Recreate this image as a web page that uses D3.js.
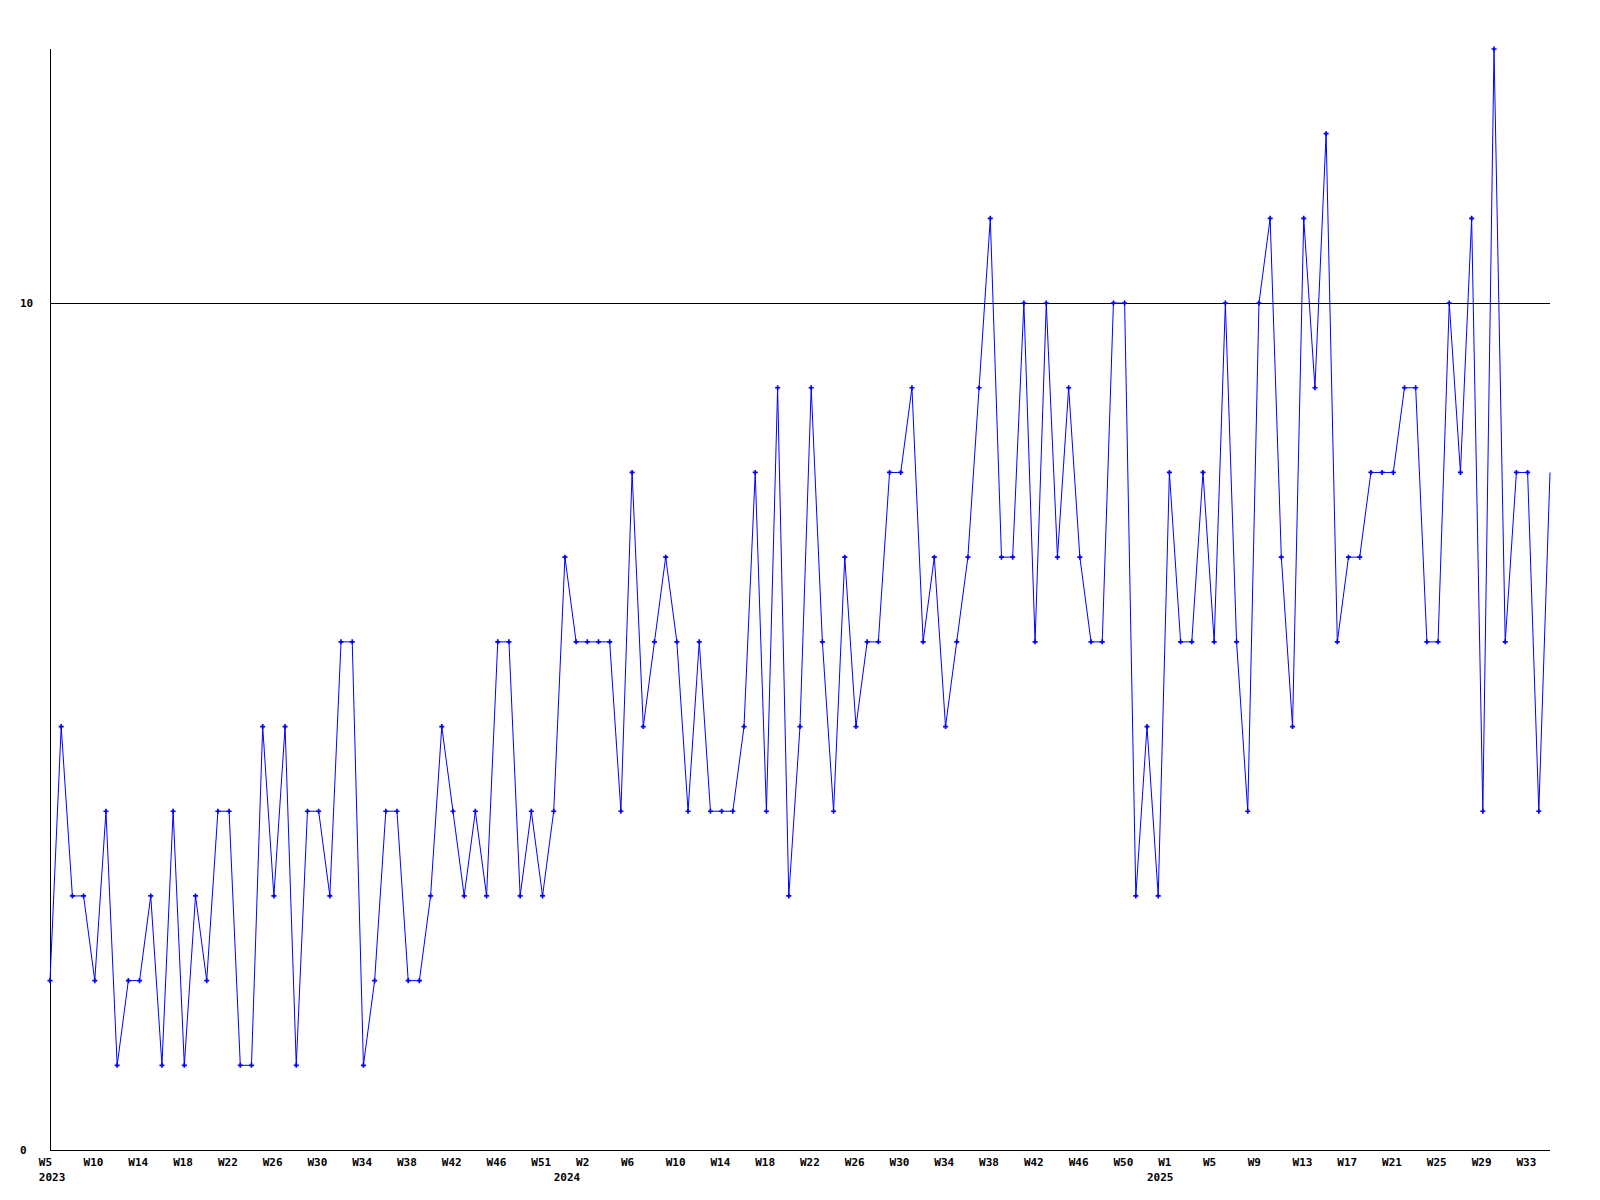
<!DOCTYPE html>
<html><head><meta charset="utf-8">
<script src="https://cdn.jsdelivr.net/npm/d3@7"></script>
<style>body{margin:0;background:#fff}svg{display:block}</style>
</head><body>
<script>
// Weekly values, starting at 2023 W5
const values = [2,5,3,3,2,4,1,2,2,3,1,4,1,3,2,4,4,1,1,5,3,5,1,4,4,3,6,6,1,2,
4,4,2,2,3,5,4,3,4,3,6,6,3,4,3,4,7,6,6,6,6,4,8,5,6,7,6,4,6,4,
4,4,5,8,4,9,3,5,9,6,4,7,5,6,6,8,8,9,6,7,5,6,7,9,11,7,7,10,6,10,
7,9,7,6,6,10,10,3,5,3,8,6,6,8,6,10,6,4,10,11,7,5,11,9,12,6,7,7,8,8,
8,9,9,6,6,10,8,11,4,13,6,8,8,4,8];
// x-axis tick labels: [point index, label]
const tickIdx = [-1,3,7,11,15,19,23,27,31,35,39,43,47,51,55,59,63,67,71,75,79,83,87,91,95,99,103,107,111,115,119,123,127,131];
const tickText = ["W5","W10","W14","W18","W22","W26","W30","W34","W38","W42","W46","W51","W2","W6","W10","W14","W18","W22","W26","W30","W34","W38","W42","W46","W50","W1","W5","W9","W13","W17","W21","W25","W29","W33"];
const yearIdx = [-1,45,98];
const yearText = ["2023","2024","2025"];
const yTicks = [0,10];

const W = 1600, H = 1200;
const svg = d3.select("body").append("svg").attr("width", W).attr("height", H);
const x = d3.scaleLinear().domain([0, values.length - 1]).range([50, 1550]);
const y = d3.scaleLinear().domain([0, 13]).range([1150, 49]);
const font = "'DejaVu Sans Mono', monospace";

// grid line at 10
svg.append("g").selectAll("line").data(yTicks.filter(d => d > 0)).join("line")
  .attr("x1", x(0)).attr("x2", x(values.length - 1))
  .attr("y1", d => Math.round(y(d)) + 0.5).attr("y2", d => Math.round(y(d)) + 0.5)
  .attr("stroke", "#000").attr("stroke-width", 1);

// axes lines
svg.append("line").attr("x1", 50.5).attr("x2", 50.5).attr("y1", y(13)).attr("y2", y(0))
  .attr("stroke", "#000");
svg.append("line").attr("x1", 50).attr("x2", x(values.length - 1)).attr("y1", y(0) + 0.5).attr("y2", y(0) + 0.5)
  .attr("stroke", "#000");

// y labels
svg.append("g").selectAll("text").data(yTicks).join("text")
  .attr("x", 20).attr("y", d => y(d)).attr("dy", "0.36em")
  .attr("font-family", font).attr("font-weight", "bold").attr("font-size", 11)
  .text(d => d);

// x labels
svg.append("g").selectAll("text").data(tickIdx).join("text")
  .attr("x", d => x(d)).attr("y", 1166)
  .attr("font-family", font).attr("font-weight", "bold").attr("font-size", 11)
  .text((d, i) => tickText[i]);
svg.append("g").selectAll("text").data(yearIdx).join("text")
  .attr("x", d => x(d)).attr("y", 1180.5)
  .attr("font-family", font).attr("font-weight", "bold").attr("font-size", 11)
  .text((d, i) => yearText[i]);

// line
const line = d3.line().x((d, i) => x(i)).y(d => y(d));
svg.append("path").datum(values).attr("d", line)
  .attr("fill", "none").attr("stroke", "#0000ff").attr("stroke-width", 1);

// markers (last point sits on the plot edge, no marker drawn)
svg.append("g").selectAll("path").data(values.slice(0, -1)).join("path")
  .attr("transform", (d, i) => `translate(${x(i)},${y(d)})`)
  .attr("d", d3.symbol().type(d3.symbolCross).size(14))
  .attr("fill", "#0000ff");
</script>
</body></html>
